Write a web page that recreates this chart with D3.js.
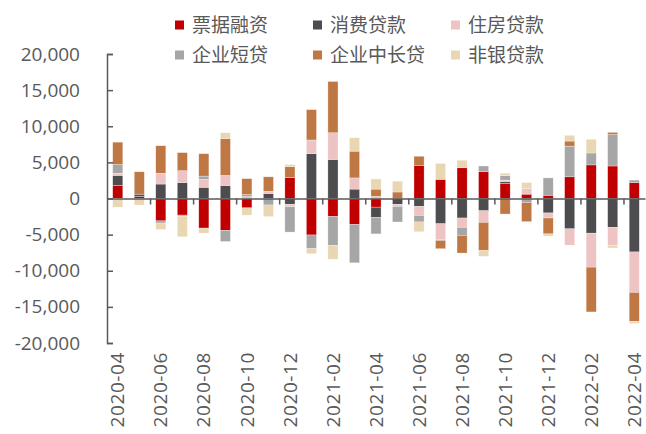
<!DOCTYPE html>
<html>
<head>
<meta charset="utf-8">
<script src="https://cdn.jsdelivr.net/npm/d3@7"></script>
<style>
  body { margin: 0; background: #fff; }
  svg text { font-family: "Open Sans", "Noto Sans", sans-serif; fill: #595959; }
  .legend text { font-family: "Noto Sans CJK SC", sans-serif; }
</style>
</head>
<body>
<div id="chart"></div>
<script>
'use strict';

// months on the x axis
const months = ["2020-04","2020-05","2020-06","2020-07","2020-08","2020-09","2020-10","2020-11","2020-12",
  "2021-01","2021-02","2021-03","2021-04","2021-05","2021-06","2021-07","2021-08","2021-09","2021-10",
  "2021-11","2021-12","2022-01","2022-02","2022-03","2022-04"];

// series names (stack order)
const seriesNames = ["票据融资","消费贷款","住房贷款","企业短贷","企业中长贷","非银贷款"];
const seriesColors = ["#C00000","#4D4D4F","#EDC3C3","#A6A6A6","#BF7843","#E9D6B2"];

// values
const billFinancing = [1800,300,-3100,-2300,-4100,-4400,-1300,0,2900,-5050,-2500,-3600,-1200,0,4600,2650,4250,3700,2100,600,450,3000,4650,4500,2200];
const consumerLoans = [1400,300,2000,2200,1550,1800,0,700,-800,6200,5400,1300,-1400,-800,-1100,-3500,-2700,-1700,250,0,-2000,-4200,-4800,-4000,-7400];
const housingLoans  = [300,0,1500,1650,1100,1400,250,300,-350,1900,3700,1550,300,-300,-1250,-2200,-1300,-1600,200,750,-700,-2250,-4700,-2500,-5600];
const corpShort     = [1200,0,-300,-150,450,-1550,300,-900,-3500,-1900,-4000,-5300,-2300,-2150,-900,-100,-1100,800,600,-550,2400,4250,1650,4350,350];
const corpLong      = [3100,3100,3800,2500,3100,5100,2200,2000,1500,4200,7100,3700,1000,900,1250,-1150,-2450,-3900,-2150,-2650,-2200,700,-6200,300,-4000];
const nonBank       = [-1200,-900,-900,-2850,-700,800,-1000,-1600,300,-700,-1900,1850,1400,1500,-1350,2200,1050,-800,350,850,-300,800,1900,-350,-300];

const yTicks = [-20000,-15000,-10000,-5000,0,5000,10000,15000,20000];

const allSeries = [billFinancing, consumerLoans, housingLoans, corpShort, corpLong, nonBank];

// build rows for d3.stack
const rows = months.map(function(m, i) {
  let r = {month: m};
  seriesNames.forEach(function(s, j) { r[s] = allSeries[j][i]; });
  return r;
});

const width = 646, height = 434;
const svg = d3.select("#chart").append("svg")
  .attr("width", width)
  .attr("height", height);

let x = d3.scaleBand()
  .domain(months)
  .range([107, 645])
  .paddingInner(0.53)
  .paddingOuter(0.265);

let y = d3.scaleLinear()
  .domain([-20000, 20000])
  .range([343, 54]);

let color = d3.scaleOrdinal().domain(seriesNames).range(seriesColors);

const stacked = d3.stack()
  .keys(seriesNames)
  .order(d3.stackOrderNone)
  .offset(d3.stackOffsetDiverging)(rows);

// bars
svg.append("g").selectAll("g")
  .data(stacked)
  .enter()
  .append("g")
  .attr("fill", function(d) { return color(d.key); })
  .selectAll("rect")
  .data(function(d) { return d.filter(function(p) { return p[1] - p[0] != 0; }); })
  .enter()
  .append("rect")
  .attr("x", function(d) { return x(d.data.month); })
  .attr("y", function(d) { return y(d[1]); })
  .attr("width", x.bandwidth())
  .attr("height", function(d) { return y(d[0]) - y(d[1]); })
  .style("stroke", "#fff")
  .style("stroke-width", 0.5)
  .style("stroke-opacity", 0.6);

// y axis, ticks pointing inward
const fmt = d3.formatLocale({decimal: ".", thousands: ",", grouping: [3], currency: ["", ""], minus: "-"}).format(",");
let yAxis = svg.append("g")
  .attr("transform", "translate(107,0)")
  .call(d3.axisLeft(y).tickValues(yTicks).tickFormat(fmt).tickSizeInner(-6).tickSizeOuter(-6).tickPadding(27));
yAxis.selectAll("path, line").style("stroke", "#595959").style("stroke-width", 1.5);
yAxis.selectAll("text").style("font-size", "19px").style("fill", "#595959");

// x axis line at zero with ticks every two months
let idx = d3.scaleLinear().domain([0, months.length]).range(x.range());
let xAxis = svg.append("g")
  .attr("transform", "translate(0," + y(0) + ")")
  .call(d3.axisBottom(idx).tickValues(d3.range(2, months.length, 2)).tickFormat("").tickSizeInner(6).tickSizeOuter(0));
xAxis.selectAll("path, line").style("stroke", "#595959").style("stroke-width", 1.5);

// month labels, rotated
let labelAxis = svg.append("g")
  .attr("transform", "translate(0,352)")
  .call(d3.axisBottom(x).tickValues(months.filter(function(d, i) { return i % 2 == 0; })).tickSize(0));
labelAxis.select(".domain").remove();
labelAxis.selectAll("text")
  .attr("transform", "rotate(-90)")
  .attr("x", 0)
  .attr("y", 0)
  .attr("dy", "0.35em")
  .style("text-anchor", "end")
  .style("font-size", "19px")
  .style("letter-spacing", "0.6px")
  .style("fill", "#595959");

// legend, two rows of three
const legX = [175, 313, 451];
const legY = [25, 55];
let legend = svg.append("g").attr("class", "legend")
  .selectAll("g")
  .data(seriesNames)
  .enter()
  .append("g")
  .attr("transform", function(d, i) { return "translate(" + legX[i % 3] + "," + legY[Math.floor(i / 3)] + ")"; });

legend.append("rect")
  .attr("x", 0)
  .attr("y", -4.5)
  .attr("width", 9)
  .attr("height", 9)
  .attr("fill", function(d) { return color(d); });

legend.append("text")
  .attr("x", 17)
  .attr("y", 0)
  .attr("dy", "0.35em")
  .style("font-size", "19px")
  .style("fill", "#595959")
  .text(function(d) { return d; });
</script>
</body>
</html>
